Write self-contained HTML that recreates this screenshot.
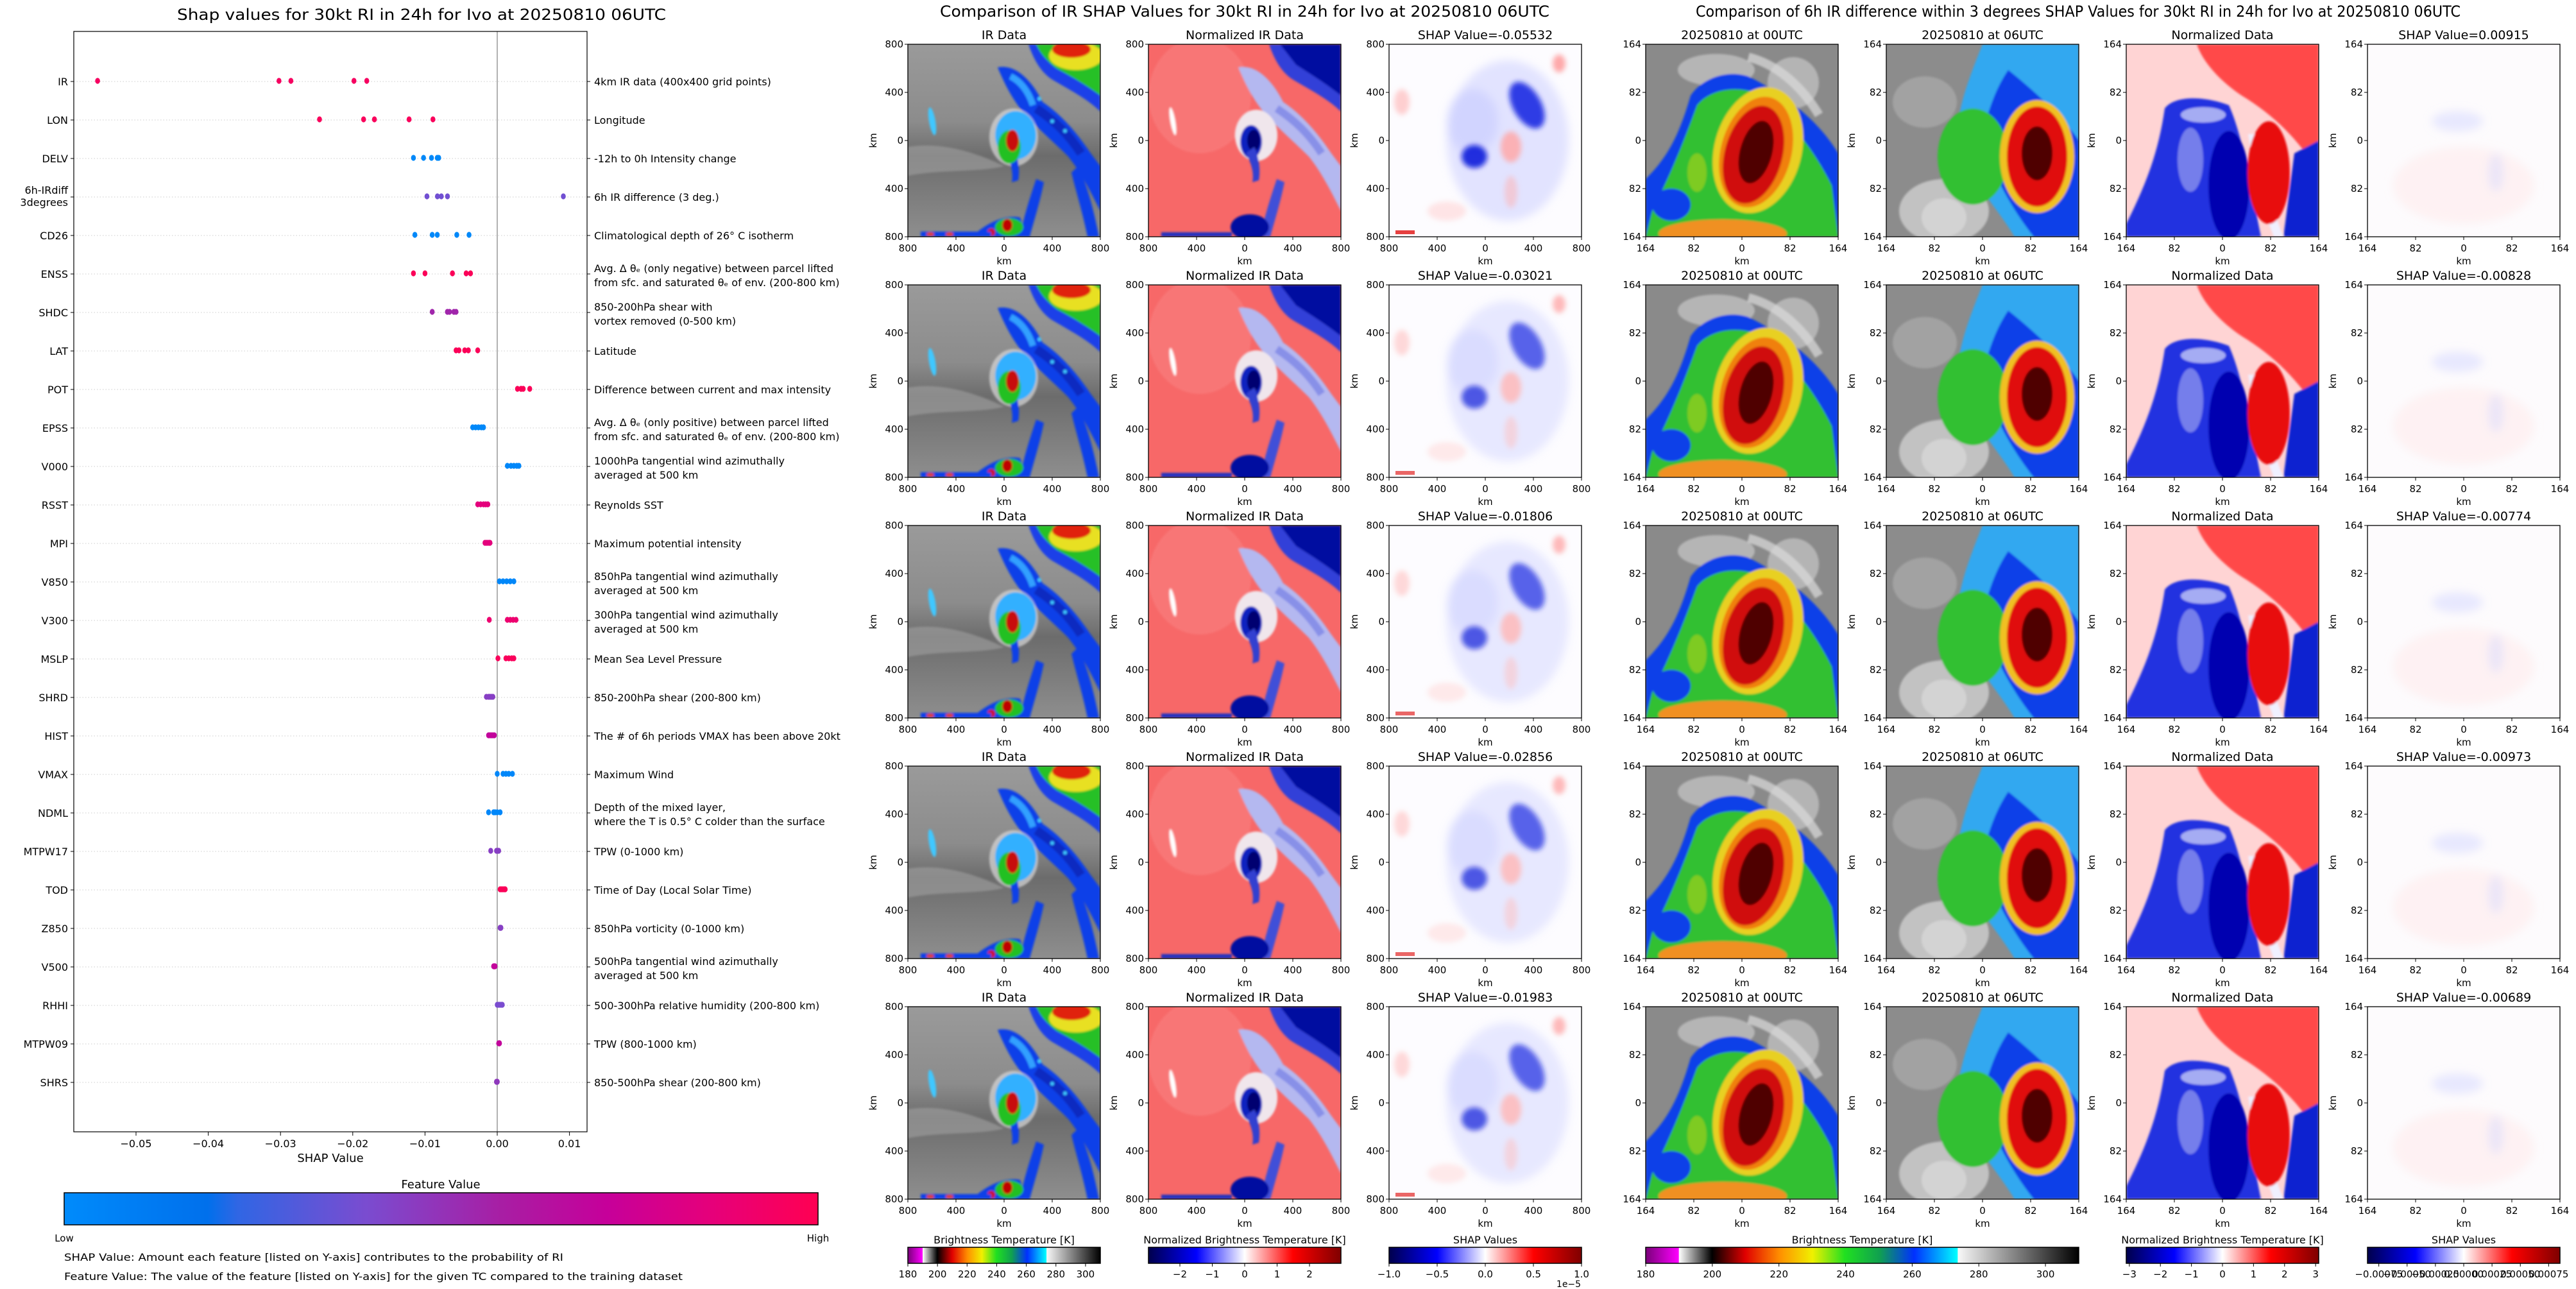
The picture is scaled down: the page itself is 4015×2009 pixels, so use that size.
<!DOCTYPE html>
<html><head><meta charset="utf-8"><title>SHAP values for Ivo</title>
<style>
html,body{margin:0;padding:0;background:#fff;}
svg{display:block;font-family:"DejaVu Sans","Liberation Sans",sans-serif;}
</style></head>
<body>
<svg id="root" xmlns="http://www.w3.org/2000/svg" width="4015" height="2009" viewBox="0 0 4015 2009">
<defs>
  <clipPath id="c300" clipPathUnits="userSpaceOnUse"><rect x="0" y="0" width="300" height="300"/></clipPath>
  <filter id="b2" x="-10%" y="-10%" width="120%" height="120%"><feGaussianBlur stdDeviation="1.6"/></filter>
  <filter id="b4" x="-30%" y="-30%" width="160%" height="160%"><feGaussianBlur stdDeviation="4"/></filter>
  <filter id="b6" x="-30%" y="-30%" width="160%" height="160%"><feGaussianBlur stdDeviation="7"/></filter>
  <linearGradient id="irbg" x1="0" y1="0" x2="0" y2="1">
    <stop offset="0" stop-color="#9a9a9a"/><stop offset="0.4" stop-color="#8c8c8c"/>
    <stop offset="0.58" stop-color="#6c6c6c"/><stop offset="0.75" stop-color="#7a7a7a"/><stop offset="1" stop-color="#8e8e8e"/>
  </linearGradient>
  <linearGradient id="fvcb" x1="0" y1="0" x2="1" y2="0">
    <stop offset="0" stop-color="#008bfb"/><stop offset="0.19" stop-color="#0070ec"/>
    <stop offset="0.23" stop-color="#3066e4"/><stop offset="0.4" stop-color="#7a4cd0"/>
    <stop offset="0.58" stop-color="#a81ea4"/><stop offset="0.72" stop-color="#c6009a"/>
    <stop offset="0.86" stop-color="#e6007a"/><stop offset="1" stop-color="#ff0052"/>
  </linearGradient>
  <linearGradient id="btcb" x1="0" y1="0" x2="1" y2="0">
    <stop offset="0" stop-color="#7a007a"/><stop offset="0.076" stop-color="#ff00ff"/>
    <stop offset="0.077" stop-color="#ffffff"/><stop offset="0.153" stop-color="#000000"/>
    <stop offset="0.23" stop-color="#e00000"/><stop offset="0.31" stop-color="#ff9000"/>
    <stop offset="0.385" stop-color="#f0f000"/><stop offset="0.46" stop-color="#20e020"/>
    <stop offset="0.54" stop-color="#10a050"/><stop offset="0.62" stop-color="#0030ff"/>
    <stop offset="0.72" stop-color="#00ffff"/><stop offset="0.721" stop-color="#f8f8f8"/>
    <stop offset="1" stop-color="#000000"/>
  </linearGradient>
  <linearGradient id="seis" x1="0" y1="0" x2="1" y2="0">
    <stop offset="0" stop-color="#00004c"/><stop offset="0.25" stop-color="#0000ff"/>
    <stop offset="0.5" stop-color="#ffffff"/><stop offset="0.75" stop-color="#ff0000"/>
    <stop offset="1" stop-color="#7f0000"/>
  </linearGradient>

  <g id="img-ir" clip-path="url(#c300)">
    <rect width="300" height="300" fill="url(#irbg)"/>
    <g filter="url(#b2)">
      <path d="M0,160 C60,150 120,175 150,190 C110,200 50,195 0,205 Z" fill="#a0a0a0" opacity="0.6"/>
      <path d="M188,0 L300,0 L300,105 C280,85 250,70 225,55 C205,42 195,20 188,0 Z" fill="#1a40e8"/>
      <path d="M200,0 L300,0 L300,80 C280,65 255,50 232,38 C215,25 205,12 200,0 Z" fill="#28c028"/>
      <ellipse cx="262" cy="18" rx="42" ry="22" fill="#e8e020"/>
      <ellipse cx="255" cy="8" rx="30" ry="13" fill="#e02010"/>
      <path d="M140,36 C170,30 195,60 210,90 C240,110 265,140 285,170 L300,190 L300,260 C285,230 270,200 250,175 C225,150 195,125 175,100 C160,80 150,60 140,36 Z" fill="#1040e8"/>
      <path d="M160,50 C180,60 190,80 195,95" stroke="#30a0ff" stroke-width="10" fill="none"/>
      <path d="M200,100 C230,120 250,140 270,170" stroke="#0a2cc0" stroke-width="14" fill="none"/>
      <circle cx="225" cy="120" r="3" fill="#40c8ff"/><circle cx="245" cy="135" r="3" fill="#40c8ff"/><circle cx="205" cy="85" r="3" fill="#40c8ff"/>
      <path d="M265,190 C280,220 290,260 298,300 L280,300 C272,260 262,230 255,200 Z" fill="#1040e8"/>
      <ellipse cx="38" cy="120" rx="5" ry="22" fill="#40c8ff" transform="rotate(-10 38 120)"/>
      <ellipse cx="165" cy="145" rx="38" ry="45" fill="#d8d8d8" opacity="0.7"/>
      <ellipse cx="168" cy="142" rx="32" ry="38" fill="#30b0ff"/>
      <path d="M150,165 C160,180 165,200 162,215 L172,212 C175,195 172,175 165,160 Z" fill="#1040e8"/>
      <ellipse cx="158" cy="160" rx="18" ry="26" fill="#20c020"/>
      <ellipse cx="163" cy="150" rx="10" ry="17" fill="#c80808"/>
      <path d="M175,300 C180,270 190,240 200,210 L212,215 C205,250 195,280 190,300 Z" fill="#1040e8"/>
      <path d="M100,300 C120,280 150,265 175,270 L185,300 Z" fill="#1040e8"/>
      <ellipse cx="158" cy="285" rx="22" ry="14" fill="#20c020"/>
      <ellipse cx="155" cy="282" rx="8" ry="10" fill="#c00000"/>
      <ellipse cx="130" cy="293" rx="6" ry="6" fill="#d01010"/>
      <rect x="20" y="292" width="110" height="8" fill="#1040e8"/>
      <ellipse cx="35" cy="296" rx="6" ry="3" fill="#e04010"/>
      <ellipse cx="65" cy="296" rx="6" ry="3" fill="#e04010"/>
    </g>
  </g>

  <g id="img-nir" clip-path="url(#c300)">
    <rect width="300" height="300" fill="#f76868"/>
    <g filter="url(#b2)">
      <ellipse cx="80" cy="80" rx="80" ry="90" fill="#f98080" opacity="0.6"/>
      <path d="M188,0 L300,0 L300,105 C280,85 250,70 225,55 C205,42 195,20 188,0 Z" fill="#3040d8"/>
      <path d="M205,0 L300,0 L300,80 C275,60 250,45 230,32 Z" fill="#0008a0"/>
      <path d="M140,36 C170,30 195,60 210,90 C240,110 265,140 285,170 L300,190 L300,260 C285,230 270,200 250,175 C225,150 195,125 175,100 C160,80 150,60 140,36 Z" fill="#b4b8f0"/>
      <path d="M200,100 C230,120 250,140 270,170" stroke="#8890e8" stroke-width="12" fill="none"/>
      <ellipse cx="38" cy="120" rx="4" ry="22" fill="#fff" transform="rotate(-10 38 120)"/>
      <ellipse cx="168" cy="142" rx="33" ry="40" fill="#f0e6ec"/>
      <ellipse cx="160" cy="152" rx="17" ry="26" fill="#1020c0"/>
      <ellipse cx="164" cy="150" rx="10" ry="17" fill="#000070"/>
      <path d="M152,170 C160,185 165,200 162,215 L172,212 C175,195 172,175 165,160 Z" fill="#3040d0"/>
      <path d="M175,300 C180,270 190,240 200,210 L212,215 C205,250 195,280 190,300 Z" fill="#4050d8"/>
      <ellipse cx="158" cy="285" rx="30" ry="20" fill="#0010a0"/>
      <rect x="20" y="293" width="110" height="7" fill="#2030c0"/>
    </g>
  </g>

  <g id="img-shap" clip-path="url(#c300)">
    <rect width="300" height="300" fill="#fdfcff"/>
    <g filter="url(#b6)">
      <ellipse cx="185" cy="150" rx="95" ry="125" fill="#c0c6ff" opacity="0.45"/>
      <ellipse cx="130" cy="120" rx="40" ry="50" fill="#b8beff" opacity="0.4"/>
    </g>
    <g filter="url(#b4)">
      <ellipse cx="215" cy="95" rx="22" ry="40" fill="#1020e0" opacity="0.85" transform="rotate(-30 215 95)"/>
      <ellipse cx="133" cy="175" rx="20" ry="18" fill="#0010d8" opacity="0.85"/>
      <ellipse cx="190" cy="160" rx="16" ry="24" fill="#ffa8a8" opacity="0.85"/>
      <ellipse cx="265" cy="30" rx="10" ry="14" fill="#ff7070" opacity="0.6"/>
      <ellipse cx="20" cy="90" rx="12" ry="20" fill="#ffb0b0" opacity="0.6"/>
      <ellipse cx="190" cy="230" rx="10" ry="25" fill="#ffb0b0" opacity="0.5"/>
      <ellipse cx="90" cy="260" rx="30" ry="15" fill="#ffc0c0" opacity="0.4"/>
    </g>
    <rect x="10" y="290" width="30" height="6" fill="#e01010" opacity="0.8"/>
  </g>

  <g id="img-z00" clip-path="url(#c300)">
    <rect width="300" height="300" fill="#8a8a8a"/>
    <g filter="url(#b2)">
      <ellipse cx="110" cy="40" rx="60" ry="25" fill="#c8c8c8" opacity="0.7"/>
      <ellipse cx="230" cy="60" rx="40" ry="40" fill="#d0d0d0" opacity="0.6"/>
      <path d="M0,210 C30,180 50,150 70,80 C90,50 130,40 160,50 C220,80 270,120 300,170 L300,300 L0,300 Z" fill="#1040e8"/>
      <path d="M10,260 C40,200 60,150 80,95 C100,70 140,65 170,75 C220,110 260,160 290,220 L300,300 L0,300 Z" fill="#30c030"/>
      <ellipse cx="175" cy="165" rx="68" ry="100" fill="#e8d020" transform="rotate(15 175 165)"/>
      <ellipse cx="172" cy="168" rx="55" ry="88" fill="#f08010" transform="rotate(15 172 168)"/>
      <ellipse cx="168" cy="172" rx="45" ry="78" fill="#d01010" transform="rotate(15 168 172)"/>
      <ellipse cx="172" cy="168" rx="25" ry="50" fill="#500000" transform="rotate(15 172 168)"/>
      <ellipse cx="120" cy="295" rx="100" ry="22" fill="#f09020"/>
      <ellipse cx="40" cy="250" rx="30" ry="25" fill="#1040e8"/>
      <ellipse cx="80" cy="200" rx="15" ry="30" fill="#a0d020" opacity="0.7"/>
      <path d="M160,20 C200,30 240,60 270,110" stroke="#dcdcdc" stroke-width="14" fill="none" opacity="0.7"/>
    </g>
  </g>

  <g id="img-z06" clip-path="url(#c300)">
    <rect width="300" height="300" fill="#8c8c8c"/>
    <g filter="url(#b2)">
      <ellipse cx="90" cy="260" rx="70" ry="50" fill="#d8d8d8" opacity="0.7"/>
      <path d="M150,0 L300,0 L300,300 L200,300 C170,250 120,200 110,150 C110,100 130,50 150,0 Z" fill="#30a8f0"/>
      <path d="M190,40 C240,80 280,120 300,150 L300,300 L230,300 C190,250 160,190 150,140 C160,100 170,70 190,40 Z" fill="#1040e8"/>
      <ellipse cx="135" cy="175" rx="55" ry="75" fill="#30c030"/>
      <ellipse cx="235" cy="175" rx="58" ry="88" fill="#f0c020"/>
      <ellipse cx="235" cy="175" rx="47" ry="78" fill="#e01010"/>
      <ellipse cx="235" cy="170" rx="24" ry="42" fill="#500000"/>
      <ellipse cx="90" cy="270" rx="35" ry="30" fill="#d8d8d8" opacity="0.8"/>
      <ellipse cx="60" cy="90" rx="50" ry="40" fill="#b0b0b0" opacity="0.6"/>
    </g>
  </g>

  <g id="img-zn" clip-path="url(#c300)">
    <rect width="300" height="300" fill="#ffd4d4"/>
    <g filter="url(#b2)">
      <path d="M110,0 L300,0 L300,200 C270,150 230,110 180,80 C150,60 120,30 110,0 Z" fill="#ff4a4a"/>
      <path d="M0,280 C30,220 50,170 60,100 C75,80 120,80 160,95 C180,140 190,200 210,300 L0,300 Z" fill="#2030e0"/>
      <ellipse cx="160" cy="220" rx="32" ry="85" fill="#0000b0"/>
      <path d="M190,140 C200,200 210,250 230,300 L245,300 C225,250 212,190 205,140 Z" fill="#f0f0ff"/>
      <ellipse cx="222" cy="200" rx="33" ry="80" fill="#e81010"/>
      <path d="M262,170 L300,150 L300,300 L245,300 Z" fill="#1020d0"/>
      <ellipse cx="100" cy="180" rx="20" ry="50" fill="#9aa0f0" opacity="0.7"/>
      <ellipse cx="120" cy="110" rx="35" ry="12" fill="#ffffff" opacity="0.6"/>
    </g>
  </g>

  <g id="img-zs" clip-path="url(#c300)">
    <rect width="300" height="300" fill="#fdfbfd"/>
    <g filter="url(#b6)">
      <ellipse cx="150" cy="220" rx="110" ry="60" fill="#ffe0e0" opacity="0.35"/>
      <ellipse cx="140" cy="120" rx="40" ry="16" fill="#c8ccff" opacity="0.4"/>
      <ellipse cx="200" cy="200" rx="12" ry="30" fill="#d0d4ff" opacity="0.4"/>
    </g>
  </g>
</defs>
</svg>

<script>
const features = ['IR','LON','DELV','6h-IRdiff|3degrees','CD26','ENSS','SHDC','LAT','POT','EPSS','V000','RSST','MPI','V850','V300','MSLP','SHRD','HIST','VMAX','NDML','MTPW17','TOD','Z850','V500','RHHI','MTPW09','SHRS'];
const descriptions = [
 '4km IR data (400x400 grid points)','Longitude','-12h to 0h Intensity change','6h IR difference (3 deg.)',
 'Climatological depth of 26° C isotherm',
 'Avg. Δ θₑ (only negative) between parcel lifted|from sfc. and saturated θₑ of env. (200-800 km)',
 '850-200hPa shear with|vortex removed (0-500 km)','Latitude','Difference between current and max intensity',
 'Avg. Δ θₑ (only positive) between parcel lifted|from sfc. and saturated θₑ of env. (200-800 km)',
 '1000hPa tangential wind azimuthally|averaged at 500 km','Reynolds SST','Maximum potential intensity',
 '850hPa tangential wind azimuthally|averaged at 500 km','300hPa tangential wind azimuthally|averaged at 500 km',
 'Mean Sea Level Pressure','850-200hPa shear (200-800 km)','The # of 6h periods VMAX has been above 20kt',
 'Maximum Wind','Depth of the mixed layer,|where the T is 0.5° C colder than the surface','TPW (0-1000 km)',
 'Time of Day (Local Solar Time)','850hPa vorticity (0-1000 km)','500hPa tangential wind azimuthally|averaged at 500 km',
 '500-300hPa relative humidity (200-800 km)','TPW (800-1000 km)','850-500hPa shear (200-800 km)'];
const shapValues = [
 [-0.05532,-0.03021,-0.02856,-0.01983,-0.01806],
 [-0.0246,-0.0185,-0.0170,-0.0122,-0.0089],
 [-0.0116,-0.0102,-0.0091,-0.0083,-0.0081],
 [0.00915,-0.00828,-0.00774,-0.00973,-0.00689],
 [-0.0114,-0.0090,-0.0083,-0.0056,-0.0039],
 [-0.0116,-0.0100,-0.0062,-0.0043,-0.0037],
 [-0.0090,-0.0069,-0.0066,-0.0060,-0.0057],
 [-0.0057,-0.0053,-0.0045,-0.0040,-0.0027],
 [0.0028,0.0033,0.0036,0.0045,0.0033],
 [-0.0034,-0.0030,-0.0026,-0.0022,-0.0019],
 [0.0014,0.0019,0.0023,0.0027,0.0030],
 [-0.0027,-0.0023,-0.0019,-0.0016,-0.0013],
 [-0.0017,-0.0015,-0.0013,-0.0011,-0.0010],
 [0.0003,0.0008,0.0013,0.0018,0.0023],
 [-0.0011,0.0014,0.0018,0.0022,0.0026],
 [0.0001,0.0012,0.0016,0.0020,0.0023],
 [-0.0015,-0.0012,-0.0010,-0.0008,-0.0006],
 [-0.0012,-0.0010,-0.0008,-0.0006,-0.0004],
 [0.0000,0.0008,0.0012,0.0016,0.0021],
 [-0.0012,-0.0005,-0.0003,0.0000,0.0004],
 [-0.0009,-0.0001,0.0000,0.0001,0.0002],
 [0.0004,0.0006,0.0008,0.0010,0.0011],
 [0.0005,0.0004,0.0005,0.0004,0.0005],
 [-0.0004,-0.0004,-0.0005,-0.0004,-0.0003],
 [0.0000,0.0002,0.0004,0.0006,0.0007],
 [0.0003,0.0003,0.0002,0.0003,0.0003],
 [0.0000,-0.0001,0.0000,-0.0001,0.0000]];
const featureValues = [0.95,0.97,0.02,0.38,0.02,0.98,0.55,0.98,0.98,0.02,0.03,0.85,0.85,0.03,0.9,0.97,0.45,0.7,0.03,0.03,0.45,0.98,0.45,0.7,0.4,0.7,0.48];
const xTicks = [-0.05,-0.04,-0.03,-0.02,-0.01,0.00,0.01];
const xTickLabels = ['−0.05','−0.04','−0.03','−0.02','−0.01','0.00','0.01'];

const irShapTitles = ['-0.05532','-0.03021','-0.01806','-0.02856','-0.01983'];
const diffShapTitles = ['0.00915','-0.00828','-0.00774','-0.00973','-0.00689'];
const kmTicksLarge = ['800','400','0','400','800'];
const kmTicksSmall = ['164','82','0','82','164'];
const btTicks = [180,200,220,240,260,280,300];
const normTicks2 = [-2,-1,0,1,2];
const shapTicks = [-1.0,-0.5,0.0,0.5,1.0];
const normTicks3 = [-3,-2,-1,0,1,2,3];
const shapTicks2 = ['-0.00075','-0.00050','-0.00025','0.00000','0.00025','0.00050','0.00075'];
const shapTicks2Vals = [-0.00075,-0.0005,-0.00025,0,0.00025,0.0005,0.00075];

const NS='http://www.w3.org/2000/svg';
const root=document.getElementById('root');
function el(tag,attrs,parent){const e=document.createElementNS(NS,tag);for(const k in attrs)e.setAttribute(k,attrs[k]);(parent||root).appendChild(e);return e;}
function txt(s,attrs,parent){const e=el('text',attrs,parent);e.textContent=s;return e;}

const AX_L=115, AX_R=915, AX_T=49, AX_B=1764;
const x0px=775, pxPerUnit=11260;
function xs(v){return x0px+v*pxPerUnit;}
function ys(i){return 127+i*60;}
function fvColor(t){
  const stops=[[0,[0,139,251]],[0.19,[0,112,236]],[0.23,[48,102,228]],[0.4,[122,76,208]],[0.58,[168,30,164]],[0.72,[198,0,154]],[0.86,[230,0,122]],[1,[255,0,82]]];
  for(let i=1;i<stops.length;i++){if(t<=stops[i][0]){const a=stops[i-1],b=stops[i];const f=(t-a[0])/(b[0]-a[0]);const c=a[1].map((v,k)=>Math.round(v+(b[1][k]-v)*f));return 'rgb('+c.join(',')+')';}}
  return 'rgb(255,0,82)';
}
const left=el('g',{});


const t0=txt('Shap values for 30kt RI in 24h for Ivo at 20250810 06UTC',{x:657,y:31,'text-anchor':'middle','font-size':24,textLength:762,lengthAdjust:'spacingAndGlyphs'},left);


features.forEach((f,i)=>{
  const y=ys(i);
  const g=el('line',{x1:AX_L,x2:AX_R,y1:y,y2:y,stroke:'#cccccc','stroke-width':1,'stroke-dasharray':'1.5,3'},left);
  
  
  el('line',{x1:AX_L-5,x2:AX_L,y1:y,y2:y,stroke:'#000','stroke-width':1},left);
  el('line',{x1:AX_R,x2:AX_R+5,y1:y,y2:y,stroke:'#000','stroke-width':1},left);
  const parts=f.split('|');
  const lab=txt('',{x:106,y:y+6,'text-anchor':'end','font-size':16},left);
  
  
  if(parts.length===1){lab.textContent=f;}else{lab.setAttribute('y',y-5);parts.forEach((p,k)=>{const ts=el('tspan',{x:106,dy:k?19:0},lab);ts.textContent=p;});}
  const dparts=descriptions[i].split('|');
  const dl=txt('',{x:926,y:y+6,'font-size':16},left);
  
  
  if(dparts.length===1){dl.textContent=descriptions[i];}else{dl.setAttribute('y',y-3);dparts.forEach((p,k)=>{const ts=el('tspan',{x:926,dy:k?22:0},dl);ts.textContent=p;});}
});
const zl=el('line',{x1:x0px,x2:x0px,y1:AX_T,y2:AX_B,stroke:'#999','stroke-width':1.5},left);


features.forEach((f,i)=>{
  const vals=shapValues[i];
  const col=fvColor(featureValues[i]);
  vals.forEach((v,k)=>{
    const d=el('ellipse',{cx:xs(v),cy:ys(i)-1,rx:3.8,ry:4.6,fill:col},left);
    
    
  });
});
const fr=el('rect',{x:AX_L,y:AX_T,width:AX_R-AX_L,height:AX_B-AX_T,fill:'none',stroke:'#000','stroke-width':1.2},left);


xTicks.forEach((v,k)=>{
  el('line',{x1:xs(v),x2:xs(v),y1:AX_B,y2:AX_B+6,stroke:'#000','stroke-width':1},left);
  const tl=txt(xTickLabels[k],{x:xs(v),y:1788,'text-anchor':'middle','font-size':16},left);
  
  
});
const xl=txt('SHAP Value',{x:515,y:1811,'text-anchor':'middle','font-size':18},left);


const fvt=txt('Feature Value',{x:687,y:1852,'text-anchor':'middle','font-size':18},left);


const fvb=el('rect',{x:100,y:1859,width:1175,height:50,fill:'url(#fvcb)',stroke:'#000','stroke-width':1.5},left);


const lo=txt('Low',{x:100,y:1935,'text-anchor':'middle','font-size':15},left);


const hi=txt('High',{x:1275,y:1935,'text-anchor':'middle','font-size':15},left);


const n1=txt('SHAP Value: Amount each feature [listed on Y-axis] contributes to the probability of RI',{x:100,y:1965,'font-size':16,textLength:778,lengthAdjust:'spacingAndGlyphs'},left);


const n2=txt('Feature Value: The value of the feature [listed on Y-axis] for the given TC compared to the training dataset',{x:100,y:1995,'font-size':16,textLength:964,lengthAdjust:'spacingAndGlyphs'},left);



const t1=txt('Comparison of IR SHAP Values for 30kt RI in 24h for Ivo at 20250810 06UTC',{x:1940,y:26,'text-anchor':'middle','font-size':24,textLength:950,lengthAdjust:'spacingAndGlyphs'});


const t2=txt('Comparison of 6h IR difference within 3 degrees SHAP Values for 30kt RI in 24h for Ivo at 20250810 06UTC',{x:3239,y:26,'text-anchor':'middle','font-size':24,textLength:1192,lengthAdjust:'spacingAndGlyphs'});



const colX=[1415,1790,2165,2565,2940,3314,3690];
const colImg=['img-ir','img-nir','img-shap','img-z00','img-z06','img-zn','img-zs'];
const colName=['ir-data-panel','normalized-ir-panel','ir-shap-panel','ir-00utc-panel','ir-06utc-panel','normalized-diff-panel','diff-shap-panel'];
function panelTitle(c,r){
  if(c===0)return 'IR Data';
  if(c===1)return 'Normalized IR Data';
  if(c===2)return 'SHAP Value='+irShapTitles[r];
  if(c===3)return '20250810 at 00UTC';
  if(c===4)return '20250810 at 06UTC';
  if(c===5)return 'Normalized Data';
  return 'SHAP Value='+diffShapTitles[r];
}
for(let r=0;r<5;r++){
  const top=69+r*375;
  for(let c=0;c<7;c++){
    const x=colX[c];
    const g=el('g',{});
    
    
    const u=el('use',{href:'#'+colImg[c],transform:'translate('+x+','+top+')'},g);
    if(c===2&&r>0){u.setAttribute('opacity','0.8');}
    el('rect',{x:x,y:top,width:300,height:300,fill:'none',stroke:'#000','stroke-width':1.3},g);
    const pt=txt(panelTitle(c,r),{x:x+150,y:top-8,'text-anchor':'middle','font-size':19},g);
    
    
    const ticks=c<3?kmTicksLarge:kmTicksSmall;
    ticks.forEach((t,k)=>{
      const px=x+k*75, py=top+k*75;
      el('line',{x1:px,x2:px,y1:top+300,y2:top+305,stroke:'#000'},g);
      el('line',{x1:x-5,x2:x,y1:py,y2:py,stroke:'#000'},g);
      const xt=txt(t,{x:px,y:top+323,'text-anchor':'middle','font-size':15},g);
      
      
      const yt=txt(t,{x:x-7,y:py+5,'text-anchor':'end','font-size':15},g);
      
      
    });
    const kx=txt('km',{x:x+150,y:top+343,'text-anchor':'middle','font-size':15},g);
    
    
    if(c!==3){
      const ky=txt('km',{x:0,y:0,'text-anchor':'middle','font-size':15,transform:'translate('+(x-49)+','+(top+150)+') rotate(-90)'},g);
      
      
    }
  }
}

function colorbar(name,x,w,fill,title,ticks,labels,vmin,vmax){
  const g=el('g',{});
  
  
  const tt=txt(title,{x:x+w/2,y:1938,'text-anchor':'middle','font-size':16},g);
  
  
  el('rect',{x:x,y:1944,width:w,height:25,fill:fill,stroke:'#000','stroke-width':1.5},g);
  ticks.forEach((v,k)=>{
    const px=x+(v-vmin)/(vmax-vmin)*w;
    el('line',{x1:px,x2:px,y1:1969,y2:1974,stroke:'#000'},g);
    const tl=txt(labels[k],{x:px,y:1991,'text-anchor':'middle','font-size':15},g);
    
    
  });
  return g;
}
colorbar('brightness-temp-colorbar',1415,300,'url(#btcb)','Brightness Temperature [K]',btTicks,btTicks.map(String),180,310);
colorbar('normalized-bt-colorbar',1790,300,'url(#seis)','Normalized Brightness Temperature [K]',normTicks2,normTicks2.map(v=>v<0?'−'+(-v):String(v)),-2.97,2.97);
const sc=colorbar('shap-colorbar',2165,300,'url(#seis)','SHAP Values',shapTicks,shapTicks.map(v=>(v<0?'−':'')+Math.abs(v).toFixed(1)),-1,1);
const ex=txt('1e−5',{x:2445,y:2006,'text-anchor':'middle','font-size':14},sc);


colorbar('brightness-temp-colorbar-zoom',2565,675,'url(#btcb)','Brightness Temperature [K]',btTicks,btTicks.map(String),180,310);
colorbar('normalized-bt-colorbar-zoom',3314,300,'url(#seis)','Normalized Brightness Temperature [K]',normTicks3,normTicks3.map(v=>v<0?'−'+(-v):String(v)),-3.1,3.1);
colorbar('diff-shap-colorbar',3690,300,'url(#seis)','SHAP Values',shapTicks2Vals,shapTicks2.map(s=>s.replace('-','−')),-0.00085,0.00085);
</script>
</body></html>
